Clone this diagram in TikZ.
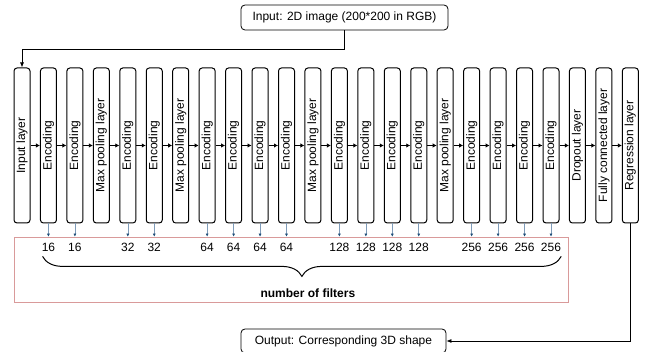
\documentclass[tikz,border=0pt]{standalone}
\usepackage{fontspec}
\setmainfont{Liberation Sans}
\usepackage{graphicx}
\usetikzlibrary{arrows.meta,positioning,decorations.pathreplacing}
\definecolor{netframe}{HTML}{D99A9A}
\definecolor{nettip}{HTML}{1F4E79}
\definecolor{netstem}{HTML}{7F9BB8}

\begin{document}
\begin{tikzpicture}[font=\fontsize{12pt}{14pt}\selectfont, node distance=9.45pt,
  layer/.style={draw, line width=1pt, rounded corners=3pt, minimum width=16pt, minimum height=155pt, inner sep=0pt},
  io/.style={draw, line width=0.8pt, rounded corners=4pt, minimum height=25pt, inner sep=2pt},
  chain/.style={-{Latex[length=4pt,width=4.5pt]}, line width=1.4pt},
  link/.style={-{Latex[length=5pt,width=4pt]}, line width=0.8pt},
  filtarrow/.style={netstem, line width=0.6pt, -{Latex[length=3pt,width=3pt,color=nettip]}},
  num/.style={inner sep=1pt}]
  \useasboundingbox (0,0) rectangle (649pt,-352pt);
  % input / output
  \node[io, minimum width=207pt] (src) at (344.5pt,-17.5pt) {Input: 2D image (200*200 in RGB)};
  \node[io, minimum width=205pt, minimum height=24pt] (out) at (343.5pt,-341pt) {Output: Corresponding 3D shape};
  % layers
  \node[layer] (inp) at (22pt,-145.5pt) {\rotatebox{90}{Input layer}};
  \node[layer, right=of inp] (enc1) {\rotatebox{90}{Encoding}};
  \node[layer, right=of enc1] (enc2) {\rotatebox{90}{Encoding}};
  \node[layer, right=of enc2] (pool1) {\rotatebox{90}{Max pooling layer}};
  \node[layer, right=of pool1] (enc3) {\rotatebox{90}{Encoding}};
  \node[layer, right=of enc3] (enc4) {\rotatebox{90}{Encoding}};
  \node[layer, right=of enc4] (pool2) {\rotatebox{90}{Max pooling layer}};
  \node[layer, right=of pool2] (enc5) {\rotatebox{90}{Encoding}};
  \node[layer, right=of enc5] (enc6) {\rotatebox{90}{Encoding}};
  \node[layer, right=of enc6] (enc7) {\rotatebox{90}{Encoding}};
  \node[layer, right=of enc7] (enc8) {\rotatebox{90}{Encoding}};
  \node[layer, right=of enc8] (pool3) {\rotatebox{90}{Max pooling layer}};
  \node[layer, right=of pool3] (enc9) {\rotatebox{90}{Encoding}};
  \node[layer, right=of enc9] (enc10) {\rotatebox{90}{Encoding}};
  \node[layer, right=of enc10] (enc11) {\rotatebox{90}{Encoding}};
  \node[layer, right=of enc11] (enc12) {\rotatebox{90}{Encoding}};
  \node[layer, right=of enc12] (pool4) {\rotatebox{90}{Max pooling layer}};
  \node[layer, right=of pool4] (enc13) {\rotatebox{90}{Encoding}};
  \node[layer, right=of enc13] (enc14) {\rotatebox{90}{Encoding}};
  \node[layer, right=of enc14] (enc15) {\rotatebox{90}{Encoding}};
  \node[layer, right=of enc15] (enc16) {\rotatebox{90}{Encoding}};
  \node[layer, right=of enc16] (drop) {\rotatebox{90}{Dropout layer}};
  \node[layer, right=of drop] (fc) {\rotatebox{90}{Fully connected layer}};
  \node[layer, right=of fc] (reg) {\rotatebox{90}{Regression layer}};
  \draw[chain] (inp) -- (enc1); \draw[chain] (enc1) -- (enc2); \draw[chain] (enc2) -- (pool1); \draw[chain] (pool1) -- (enc3);
  \draw[chain] (enc3) -- (enc4); \draw[chain] (enc4) -- (pool2); \draw[chain] (pool2) -- (enc5); \draw[chain] (enc5) -- (enc6);
  \draw[chain] (enc6) -- (enc7); \draw[chain] (enc7) -- (enc8); \draw[chain] (enc8) -- (pool3); \draw[chain] (pool3) -- (enc9);
  \draw[chain] (enc9) -- (enc10); \draw[chain] (enc10) -- (enc11); \draw[chain] (enc11) -- (enc12); \draw[chain] (enc12) -- (pool4);
  \draw[chain] (pool4) -- (enc13); \draw[chain] (enc13) -- (enc14); \draw[chain] (enc14) -- (enc15); \draw[chain] (enc15) -- (enc16);
  \draw[chain] (enc16) -- (drop); \draw[chain] (drop) -- (fc); \draw[chain] (fc) -- (reg);
  \draw[link] (src.south) -- ++(0,-19pt) -| (inp.north);
  \draw[link] (reg.south) |- (out.east);
  % number of filters
  \node[draw=netframe, line width=0.6pt, minimum width=554pt, minimum height=65pt, inner sep=0pt] (filt) at (291pt,-269.5pt) {};
  \node[num, below=18pt of enc1] (f1) {16};
  \node[num, below=18pt of enc2] (f2) {16};
  \node[num, below=18pt of enc3] (f3) {32};
  \node[num, below=18pt of enc4] (f4) {32};
  \node[num, below=18pt of enc5] (f5) {64};
  \node[num, below=18pt of enc6] (f6) {64};
  \node[num, below=18pt of enc7] (f7) {64};
  \node[num, below=18pt of enc8] (f8) {64};
  \node[num, below=18pt of enc9] (f9) {128};
  \node[num, below=18pt of enc10] (f10) {128};
  \node[num, below=18pt of enc11] (f11) {128};
  \node[num, below=18pt of enc12] (f12) {128};
  \node[num, below=18pt of enc13] (f13) {256};
  \node[num, below=18pt of enc14] (f14) {256};
  \node[num, below=18pt of enc15] (f15) {256};
  \node[num, below=18pt of enc16] (f16) {256};
  \draw[filtarrow] (enc1.south) -- (enc1.south |- filt.north); \draw[filtarrow] (enc2.south) -- (enc2.south |- filt.north);
  \draw[filtarrow] (enc3.south) -- (enc3.south |- filt.north); \draw[filtarrow] (enc4.south) -- (enc4.south |- filt.north);
  \draw[filtarrow] (enc5.south) -- (enc5.south |- filt.north); \draw[filtarrow] (enc6.south) -- (enc6.south |- filt.north);
  \draw[filtarrow] (enc7.south) -- (enc7.south |- filt.north); \draw[filtarrow] (enc8.south) -- (enc8.south |- filt.north);
  \draw[filtarrow] (enc9.south) -- (enc9.south |- filt.north); \draw[filtarrow] (enc10.south) -- (enc10.south |- filt.north);
  \draw[filtarrow] (enc11.south) -- (enc11.south |- filt.north); \draw[filtarrow] (enc12.south) -- (enc12.south |- filt.north);
  \draw[filtarrow] (enc13.south) -- (enc13.south |- filt.north); \draw[filtarrow] (enc14.south) -- (enc14.south |- filt.north);
  \draw[filtarrow] (enc15.south) -- (enc15.south |- filt.north); \draw[filtarrow] (enc16.south) -- (enc16.south |- filt.north);
  \draw[decorate, decoration={brace, mirror, amplitude=20pt}, line width=1pt]
    ([xshift=2pt,yshift=-4pt]f1.south west) -- node[below=29pt, xshift=6pt, font=\fontsize{12pt}{14pt}\selectfont\bfseries] (lbl) {number of filters}
    ([xshift=-1pt,yshift=-4pt]f16.south east);
\end{tikzpicture}
\end{document}
